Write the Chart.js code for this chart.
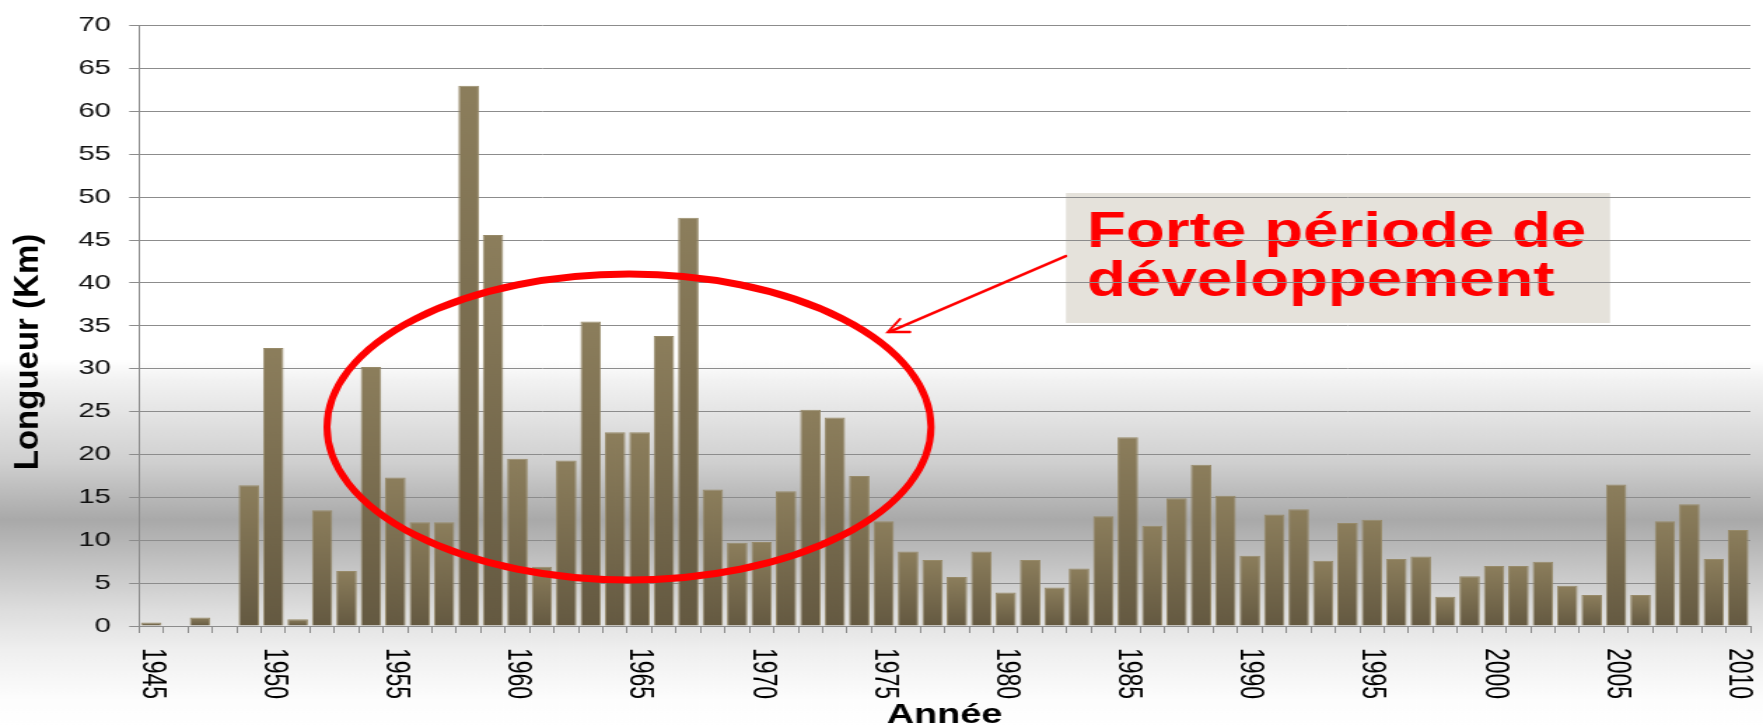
<!DOCTYPE html>
<html>
<head>
<meta charset="utf-8">
<script src="https://cdn.jsdelivr.net/npm/chart.js@4.4.1/dist/chart.umd.min.js"></script>
<style>
  html, body { margin: 0; padding: 0; background: #fff; overflow: hidden; }
  /* the original slide is stretched sideways, so the chart is drawn narrower and widened */
  #wrap { width: 1259px; height: 727px; transform: scaleX(1.40032); transform-origin: 0 0; }
</style>
</head>
<body>
<div id="wrap"><canvas id="myChart"></canvas></div>
<script>
var years = [1945, 1946, 1947, 1948, 1949, 1950, 1951, 1952, 1953, 1954,
  1955, 1956, 1957, 1958, 1959, 1960, 1961, 1962, 1963, 1964,
  1965, 1966, 1967, 1968, 1969, 1970, 1971, 1972, 1973, 1974,
  1975, 1976, 1977, 1978, 1979, 1980, 1981, 1982, 1983, 1984,
  1985, 1986, 1987, 1988, 1989, 1990, 1991, 1992, 1993, 1994,
  1995, 1996, 1997, 1998, 1999, 2000, 2001, 2002, 2003, 2004,
  2005, 2006, 2007, 2008, 2009, 2010];

// longueur construite par an (km)
var longueurs = [0.4, 0, 1.0, 0, 16.4, 32.4, 0.8, 13.5, 6.4, 30.2,
  17.3, 12.1, 12.1, 63.0, 45.6, 19.5, 6.9, 19.3, 35.5, 22.6,
  22.6, 33.8, 47.6, 15.9, 9.7, 9.8, 15.7, 25.2, 24.3, 17.5,
  12.2, 8.7, 7.7, 5.7, 8.7, 3.9, 7.7, 4.5, 6.7, 12.8,
  22.0, 11.7, 14.9, 18.8, 15.2, 8.2, 13.0, 13.6, 7.6, 12.0,
  12.4, 7.8, 8.1, 3.4, 5.8, 7.0, 7.0, 7.5, 4.7, 3.6,
  16.5, 3.6, 12.2, 14.2, 7.8, 11.2];

var labelYears = [1945, 1950, 1955, 1960, 1965, 1970, 1975, 1980, 1985, 1990, 1995, 2000, 2005, 2010];
var yMin = 0, yMax = 70, yStep = 5;

var S = 1763 / 1259;
var FONT = '"Liberation Sans", Arial, sans-serif';

function barFill(c) {
  var chart = c.chart;
  if (!chart.chartArea || !c.raw) return '#7a6d4f';
  var ys = chart.scales.y;
  var top = ys.getPixelForValue(c.raw), bot = ys.getPixelForValue(0);
  if (!(bot - top > 1)) return '#7a6d4f';
  var g = chart.ctx.createLinearGradient(0, top, 0, bot);
  g.addColorStop(0, '#8c7e5c');
  g.addColorStop(1, '#645941');
  return g;
}

var deco = {
  id: 'deco',
  beforeDraw: function(chart) {
    var ctx = chart.ctx, h = chart.height;
    ctx.save();
    var g = ctx.createLinearGradient(0, 0, 0, h);
    g.addColorStop(0, '#ffffff');
    g.addColorStop(0.495, '#ffffff');
    g.addColorStop(0.523, '#f2f2f2');
    g.addColorStop(0.637, '#cfcfcf');
    g.addColorStop(0.715, '#a9a9a9');
    g.addColorStop(0.777, '#c3c3c3');
    g.addColorStop(0.839, '#dddddd');
    g.addColorStop(0.894, '#efefef');
    g.addColorStop(0.963, '#fdfdfd');
    g.addColorStop(1, '#ffffff');
    ctx.fillStyle = g;
    ctx.fillRect(0, 0, chart.width, h);

    // encadré (sous les lignes de grille, comme dans l'original)
    ctx.scale(1 / S, 1);
    ctx.fillStyle = '#e5e2db';
    ctx.fillRect(1066, 193, 544, 130);
    ctx.fillStyle = '#ff0000';
    ctx.font = 'bold 50px ' + FONT;
    ctx.textAlign = 'left';
    ctx.textBaseline = 'alphabetic';
    ctx.translate(1087, 0);
    ctx.scale(1.275, 1);
    ctx.fillText('Forte période de', 0, 247);
    ctx.fillText('développement', 0, 296);
    ctx.restore();
  },
  afterDraw: function(chart) {
    var ctx = chart.ctx, xs = chart.scales.x;
    ctx.save();
    // années, tournées dans le sens horaire
    ctx.fillStyle = '#000';
    ctx.font = '23px ' + FONT;
    ctx.textAlign = 'left';
    ctx.textBaseline = 'middle';
    years.forEach(function(yr, i) {
      if (labelYears.indexOf(yr) < 0) return;
      ctx.save();
      ctx.translate(xs.getPixelForTick(i), 648);
      ctx.rotate(Math.PI / 2);
      ctx.fillText(String(yr), 0, 0);
      ctx.restore();
    });

    ctx.scale(1 / S, 1);
    // titre de l'axe vertical
    ctx.save();
    ctx.translate(29, 352);
    ctx.rotate(-Math.PI / 2);
    ctx.font = 'bold 33px ' + FONT;
    ctx.textAlign = 'center';
    ctx.fillText('Longueur (Km)', 0, 0);
    ctx.restore();

    // ellipse + flèche
    ctx.strokeStyle = '#ff0000';
    ctx.lineWidth = 7;
    ctx.beginPath();
    ctx.ellipse(629, 427, 302, 153, 0, 0, 2 * Math.PI);
    ctx.stroke();
    ctx.lineWidth = 2.5;
    ctx.lineCap = 'round';
    ctx.beginPath();
    ctx.moveTo(1066, 256);
    ctx.lineTo(889, 332);
    ctx.stroke();
    ctx.beginPath();
    ctx.moveTo(900, 319);
    ctx.lineTo(888, 332);
    ctx.lineTo(910, 332);
    ctx.stroke();
    ctx.restore();
  }
};

new Chart(document.getElementById('myChart'), {
  type: 'bar',
  data: {
    labels: years,
    datasets: [{
      data: longueurs,
      backgroundColor: barFill,
      borderColor: '#978a69',
      borderWidth: 1,
      barPercentage: 0.84,
      categoryPercentage: 1
    }]
  },
  options: {
    responsive: true,
    maintainAspectRatio: false,
    animation: false,
    layout: { padding: { top: 20, right: 9, left: 0, bottom: 0 } },
    plugins: { legend: { display: false }, tooltip: { enabled: false } },
    scales: {
      x: {
        grid: { display: true, drawOnChartArea: false, tickLength: 7, color: '#8c8c8c', offset: true },
        border: { color: '#8c8c8c' },
        ticks: { display: false, autoSkip: false },
        title: { display: true, text: 'Année', color: '#000', padding: 0,
                 font: { family: FONT, size: 27, weight: 'bold', lineHeight: 0.85 } },
        afterFit: function(s) { s.height = 101; }
      },
      y: {
        min: yMin,
        max: yMax,
        ticks: { stepSize: yStep, padding: 13, color: '#111', font: { family: FONT, size: 21 } },
        grid: { color: '#8c8c8c', tickLength: 7 },
        border: { color: '#8c8c8c' },
        afterFit: function(s) { s.width = 139 / S; }
      }
    }
  },
  plugins: [deco]
});
</script>
</body>
</html>
